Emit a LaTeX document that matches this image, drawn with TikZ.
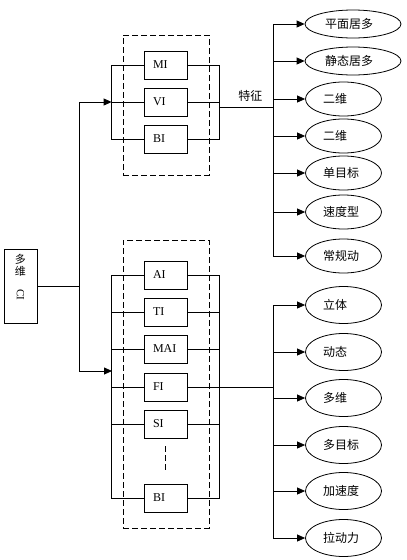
\documentclass[tikz,border=0pt]{standalone}
\usepackage{fontspec}
\setmainfont{Liberation Serif}
\newfontfamily\cjk{Noto Sans CJK SC}
\usepackage{graphicx}
\usetikzlibrary{arrows.meta,shapes.geometric}

\tikzset{
  box/.style={draw, minimum width=43pt, minimum height=28pt, inner ysep=0pt, inner xsep=9pt,
    text width=25pt, align=left, font=\fontsize{12}{14}\selectfont},
  grp/.style={draw, dashed, dash pattern=on 6pt off 3pt, minimum width=86pt, inner sep=0pt},
  oval/.style={draw, ellipse, minimum width=76pt, minimum height=34pt, inner sep=0pt,
    text width=41pt, align=left, font=\cjk\fontsize{12}{14}\selectfont},
  wide/.style={minimum width=96pt, minimum height=28pt, text width=56pt},
  arr/.style={-{Triangle[length=8pt,width=7pt]}}
}

\begin{document}
\begin{tikzpicture}[x=1pt, y=-1pt, line width=0.8pt]
\useasboundingbox (0,0) rectangle (407,560);
% source
\node[draw, minimum width=33pt, minimum height=74pt, inner sep=0pt] (ci) at (20.5,286) {};
\node[anchor=north, align=center, inner sep=0pt, font=\cjk\fontsize{11}{12}\selectfont] (citext) at ([yshift=-5pt]ci.north) {多\\维\\[2pt]\rotatebox{-90}{\rmfamily CI}};
% top group
\node[grp, minimum height=140pt] (topgrp) at (166,105) {};
\node[box] (mi) at (165.5,65) {MI};
\node[box] (vi) at (165.5,102) {VI};
\node[box] (bi) at (165.5,139) {BI};
\draw (mi.west) -- ++(-32,0) coordinate (ta) |- (bi.west);
\draw (mi.east) -- ++(32,0) coordinate (tb) |- (bi.east);
\draw (vi.east) -- (vi.east -| tb);
% bottom group
\node[grp, minimum height=288pt] (botgrp) at (166,384) {};
\node[box] (ai) at (165.5,275) {AI};
\node[box] (ti) at (165.5,312) {TI};
\node[box] (mai) at (165.5,349) {MAI};
\node[box] (fi) at (165.5,387) {FI};
\node[box] (si) at (165.5,424) {SI};
\node[box] (bi2) at (165.5,498) {BI};
\draw (ai.west) -- ++(-32,0) coordinate (ba) |- (bi2.west);
\draw (ai.east) -- ++(32,0) coordinate (bb) |- (bi2.east);
\foreach \n in {ti,mai,fi,si} {
  \draw (\n.west) -- (\n.west -| ba);
  \draw (\n.east) -- (\n.east -| bb);
}
\draw[dashed, dash pattern=on 6pt off 3pt] ([yshift=-8pt]si.south) -- ([yshift=13pt]bi2.north);
% split from source
\draw (ci.east) -- ++(42,0) coordinate (split);
\coordinate (bin) at (112,371);
\draw[arr] (split) |- (vi.west -| ta);
\draw[arr] (split) |- (bin);
\draw (vi.west) -- (vi.west -| ta);
% features
\coordinate (tout) at (219,107);
\coordinate (tbus) at (273,107);
\draw (tout) -- node[pos=0.58, above=2pt, font=\cjk\fontsize{12}{14}\selectfont] (tz) {特征} (tbus);
\node[oval, wide] (u1) at (353,24) {平面居多};
\node[oval, wide] (u2) at (353,61) {静态居多};
\node[oval] (u3) at (343.5,99) {二维};
\node[oval] (u4) at (343.5,136) {二维};
\node[oval] (u5) at (343.5,173) {单目标};
\node[oval] (u6) at (343.5,212) {速度型};
\node[oval] (u7) at (343.5,256) {常规动};
\draw (u1.west -| tbus) -- (u7.west -| tbus);
\foreach \n in {u1,u2,u3,u4,u5,u6,u7}
  \draw[arr] (\n.west -| tbus) -- (\n.west);
% bottom features
\node[oval, minimum height=37pt] (d1) at (343.5,305) {立体};
\node[oval, minimum height=37pt] (d2) at (343.5,352) {动态};
\node[oval, minimum height=37pt] (d3) at (343.5,398) {多维};
\node[oval, minimum height=37pt] (d4) at (343.5,445) {多目标};
\node[oval, minimum height=37pt] (d5) at (343.5,491) {加速度};
\node[oval, minimum height=37pt] (d6) at (343.5,538) {拉动力};
\coordinate (dbus) at (273,389);
\draw (fi.east -| bb) -- (fi.east -| dbus);
\draw (d1.west -| dbus) -- (d6.west -| dbus);
\foreach \n in {d1,d2,d3,d4,d5,d6}
  \draw[arr] (\n.west -| dbus) -- (\n.west);
\end{tikzpicture}
\end{document}
